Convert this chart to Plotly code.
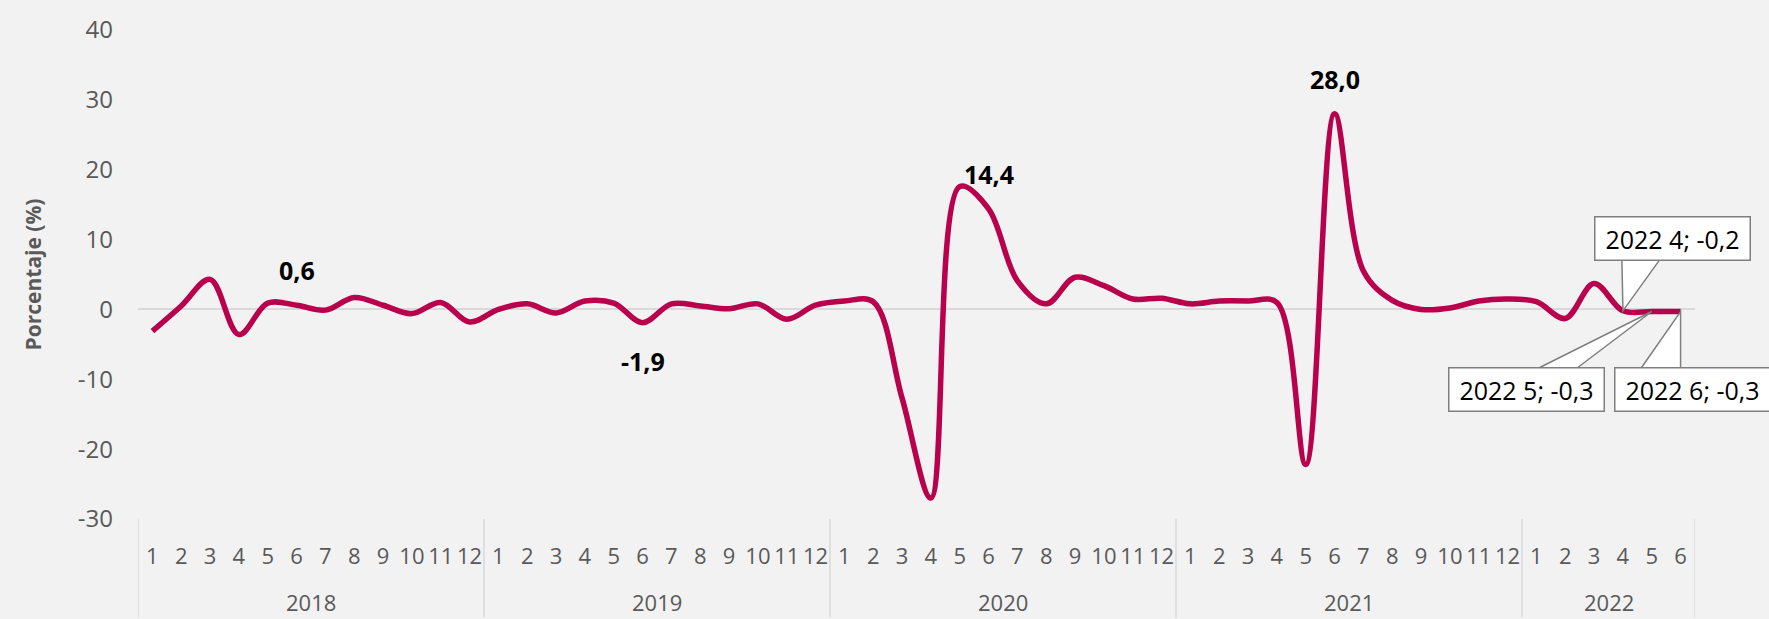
import plotly.graph_objects as go

# ---- data ----
year_labels = ["2018", "2019", "2020", "2021", "2022"]
months_per_year = [12, 12, 12, 12, 6]

values = [
    # 2018
    -3.1, 0.5, 4.3, -3.6, 0.9, 0.6, -0.1, 1.7, 0.6, -0.6, 1.0, -1.8,
    # 2019
    0.0, 0.8, -0.5, 1.2, 0.9, -1.9, 0.8, 0.5, 0.1, 0.8, -1.4, 0.6,
    # 2020
    1.2, 1.1, -12.7, -27.0, 17.6, 14.4, 4.1, 0.8, 4.6, 3.4, 1.5, 1.6,
    # 2021
    0.8, 1.2, 1.2, 1.0, -22.2, 28.0, 5.5, 1.3, 0.0, 0.2, 1.2, 1.5,
    # 2022
    1.1, -1.3, 3.7, -0.2, -0.3, -0.3,
]

y_tickvals = [-30, -20, -10, 0, 10, 20, 30, 40]
y_ticktext = ["-30", "-20", "-10", "0", "10", "20", "30", "40"]
y_title = "Porcentaje (%)"

# plain data labels (year, month)
plain_labels = [("2018", "6"), ("2019", "6"), ("2020", "6"), ("2021", "6")]
# callout labels (year, month)
callout_labels = [("2022", "4"), ("2022", "5"), ("2022", "6")]

# ---- build categories ----
x_years, x_months = [], []
for yl, n in zip(year_labels, months_per_year):
    for m in range(1, n + 1):
        x_years.append(yl)
        x_months.append(str(m))
keys = list(zip(x_years, x_months))
n_points = len(keys)
x_idx = list(range(n_points))


def fmt(v):
    return f"{v:.1f}".replace(".", ",")


LINE_COLOR = "#B8004C"
TEXT_GREY = "#595959"
DIVIDER = "#D9D9D9"
FONT = "Open Sans"
PLOT_H = 619 - 22 - 100

fig = go.Figure()
fig.add_trace(go.Scatter(
    x=x_idx, y=values, mode="lines",
    line=dict(color=LINE_COLOR, width=5.5, shape="spline", smoothing=1),
    hoverinfo="skip",
))

annotations = []
shapes = []

# year group labels and dividers
start = 0
bounds = [-0.5]
for yl, n in zip(year_labels, months_per_year):
    centre = start + (n - 1) / 2
    annotations.append(dict(
        x=centre, y=0, xref="x", yref="paper", text=yl, showarrow=False,
        yanchor="middle", yshift=-83,
        font=dict(family=FONT, size=22, color=TEXT_GREY),
    ))
    start += n
    bounds.append(start - 0.5)
for b in bounds:
    shapes.append(dict(
        type="line", xref="x", yref="paper", x0=b, x1=b, y0=0, y1=-100 / PLOT_H,
        line=dict(color=DIVIDER, width=1.5), layer="below",
    ))

# plain bold data labels: shift above for positive, below for negative
for (yr, mo) in plain_labels:
    i = keys.index((yr, mo))
    v = values[i]
    annotations.append(dict(
        x=i, y=v, xref="x", yref="y", text=f"<b>{fmt(v)}</b>", showarrow=False,
        yshift=35 if v >= 0 else -38,
        font=dict(family=FONT, size=25, color="black"),
    ))

# callout boxes: (box offset ax, ay) and wedge base corners (screen px, y down)
callout_style = [
    dict(ax=50, ay=-72, wedge=[(-1, -50), (36, -50)]),
    dict(ax=-125, ay=78, wedge=[(-112, 56), (-74, 56)]),
    dict(ax=12, ay=78, wedge=[(-39, 56), (0, 56)]),
]
for (yr, mo), st in zip(callout_labels, callout_style):
    i = keys.index((yr, mo))
    v = values[i]
    (x1, y1), (x2, y2) = st["wedge"]
    shapes.append(dict(
        type="path", xref="x", yref="y", xsizemode="pixel", ysizemode="pixel",
        xanchor=i, yanchor=v,
        path=f"M {x1} {-y1} L 0 0 L {x2} {-y2}",
        fillcolor="white", line=dict(color="#7F7F7F", width=1.5), layer="above",
    ))
    annotations.append(dict(
        x=i, y=v, xref="x", yref="y", text=f"{yr} {mo}; {fmt(v)}",
        showarrow=True, arrowcolor="rgba(0,0,0,0)", ax=st["ax"], ay=st["ay"],
        bgcolor="white", bordercolor="#7F7F7F", borderwidth=1.5, borderpad=3,
        width=148, height=36,
        font=dict(family=FONT, size=25, color="black"),
    ))

fig.update_layout(
    width=1769, height=619,
    margin=dict(l=138, r=74, t=22, b=100),
    paper_bgcolor="#F2F2F2", plot_bgcolor="#F2F2F2",
    showlegend=False,
    font=dict(family=FONT, color=TEXT_GREY),
    annotations=annotations,
    shapes=shapes,
    xaxis=dict(
        range=[-0.5, n_points - 0.5], autorange=False,
        tickmode="array", tickvals=x_idx, ticktext=x_months,
        showgrid=False, ticks="", zeroline=False, tickangle=0,
        showline=False, ticklabelstandoff=22,
        tickfont=dict(family=FONT, size=22, color=TEXT_GREY),
    ),
    yaxis=dict(
        range=[-30, 40], tickvals=y_tickvals, ticktext=y_ticktext,
        showgrid=False, zeroline=True, zerolinecolor=DIVIDER, zerolinewidth=1.5,
        showline=False, ticks="", ticklabelstandoff=24,
        tickfont=dict(family=FONT, size=24, color=TEXT_GREY),
        title=dict(text=f"<b>{y_title}</b>", standoff=30,
                   font=dict(family=FONT, size=21, color=TEXT_GREY)),
    ),
)

fig.write_html("out.html", config={"displayModeBar": False},
               post_script="document.body.style.margin='0';")
